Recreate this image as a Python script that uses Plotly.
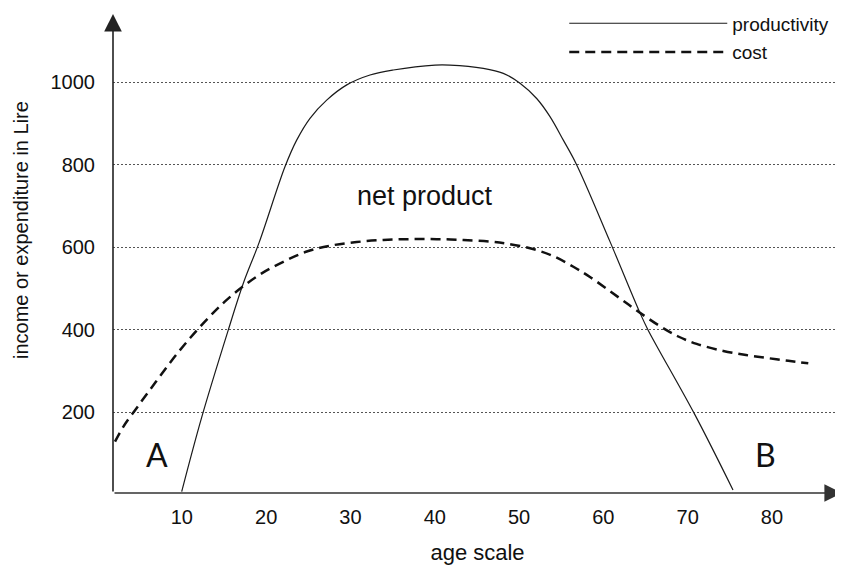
import plotly.graph_objects as go

# productivity curve (age, Lire)
prod_age = [9.98, 12.35, 15.51, 17.29, 19.15, 22.24, 23.62, 25.2, 27.18, 29.56, 32.32, 35.08, 40.03,
            41.8, 45.76, 48.13, 50.11, 52.09, 53.67, 55.25, 56.84, 60.79, 64.35, 65.3, 70.87, 75.38]
prod_val = [8, 188, 400, 513, 611, 796, 860, 913, 957, 994, 1018, 1030, 1042,
            1042, 1034, 1022, 998, 961, 917, 860, 800, 614, 441, 400, 194, 12]

# cost curve (age, Lire)
cost_age = [2.07, 3.05, 5.04, 7.02, 9.0, 11.0, 13.14, 15.12, 17.29, 19.47, 22.03, 24.81, 27.57, 30.74,
            33.9, 37.06, 40.23, 43.39, 46.55, 48.53, 51.3, 53.94, 56.44, 58.5, 61.86, 63.96, 66.72,
            68.89, 71.07, 74.23, 76.92, 79.38, 81.94, 84.31]
cost_val = [129, 165, 222, 277, 331, 381, 429, 469, 506, 537, 565, 590, 604, 613,
            618, 620, 620, 618, 614, 609, 598, 580, 553, 527, 478, 447, 409,
            384, 366, 349, 339, 332, 325, 319]

x_ticks = [10, 20, 30, 40, 50, 60, 70, 80]
y_ticks = [200, 400, 600, 800, 1000]

FONT = "Liberation Sans, Arial, sans-serif"

fig = go.Figure()
fig.add_trace(go.Scatter(x=prod_age, y=prod_val, mode="lines", name="productivity",
                         line=dict(color="#1a1a1a", width=1.2, shape="spline", smoothing=1.0),
                         legendgroup="p"))
fig.add_trace(go.Scatter(x=cost_age, y=cost_val, mode="lines", name="cost",
                         line=dict(color="#111111", width=2.5, shape="spline", smoothing=1.0, dash="10px,6px"),
                         legendgroup="c"))

# page body has an 8px margin, so the figure is sized/offset to compensate
fig.update_layout(
    width=835, height=557,
    margin=dict(l=105, r=1, t=6, b=72, autoexpand=False),
    plot_bgcolor="white", paper_bgcolor="white",
    font=dict(family=FONT, color="#111111"),
    showlegend=True,
    legend=dict(x=0.619, y=1.02, xanchor="left", yanchor="top", itemwidth=158,
                font=dict(size=19, family=FONT), tracegroupgap=1, bgcolor="rgba(0,0,0,0)"),
    xaxis=dict(range=[1.83, 88.31], tickvals=x_ticks, showgrid=False, zeroline=False, showline=False,
               ticks="outside", ticklen=6, tickcolor="rgba(0,0,0,0)", automargin=False,
               tickfont=dict(size=20, family=FONT),
               title=dict(text="age scale", font=dict(size=22, family=FONT), standoff=17)),
    yaxis=dict(range=[4.6, 1165.8], tickvals=y_ticks, showgrid=True, gridcolor="#555555", gridwidth=1,
               griddash="2px,2px", zeroline=False, showline=False, automargin=False,
               ticks="outside", ticklen=13, tickcolor="rgba(0,0,0,0)",
               tickfont=dict(size=20, family=FONT)),
)

# axis arrows
fig.add_annotation(xref="paper", yref="paper", x=0, y=1, ax=0, ay=479, axref="pixel", ayref="pixel",
                   showarrow=True, arrowhead=2, arrowsize=2.2, arrowwidth=1.6, arrowcolor="#222222", text="")
fig.add_annotation(xref="paper", yref="paper", x=1, y=0, ax=-729, ay=0, axref="pixel", ayref="pixel",
                   showarrow=True, arrowhead=2, arrowsize=2.2, arrowwidth=1.6, arrowcolor="#333333", text="")

# y title
fig.add_annotation(xref="paper", yref="paper", x=0, xshift=-92, y=0.549, text="income or expenditure in Lire",
                   textangle=-90, showarrow=False, font=dict(size=20, family=FONT), xanchor="center", yanchor="middle")

# labels
fig.add_annotation(x=38.9, y=725, text="net product", showarrow=False, font=dict(size=27, family=FONT))
fig.add_annotation(x=7.0, y=97, text="A", showarrow=False, font=dict(size=32, family="Lato, Open Sans, sans-serif"))
fig.add_annotation(x=79.2, y=97, text="B", showarrow=False, font=dict(size=32, family="Lato, Open Sans, sans-serif"))

fig.write_html("out.html")
